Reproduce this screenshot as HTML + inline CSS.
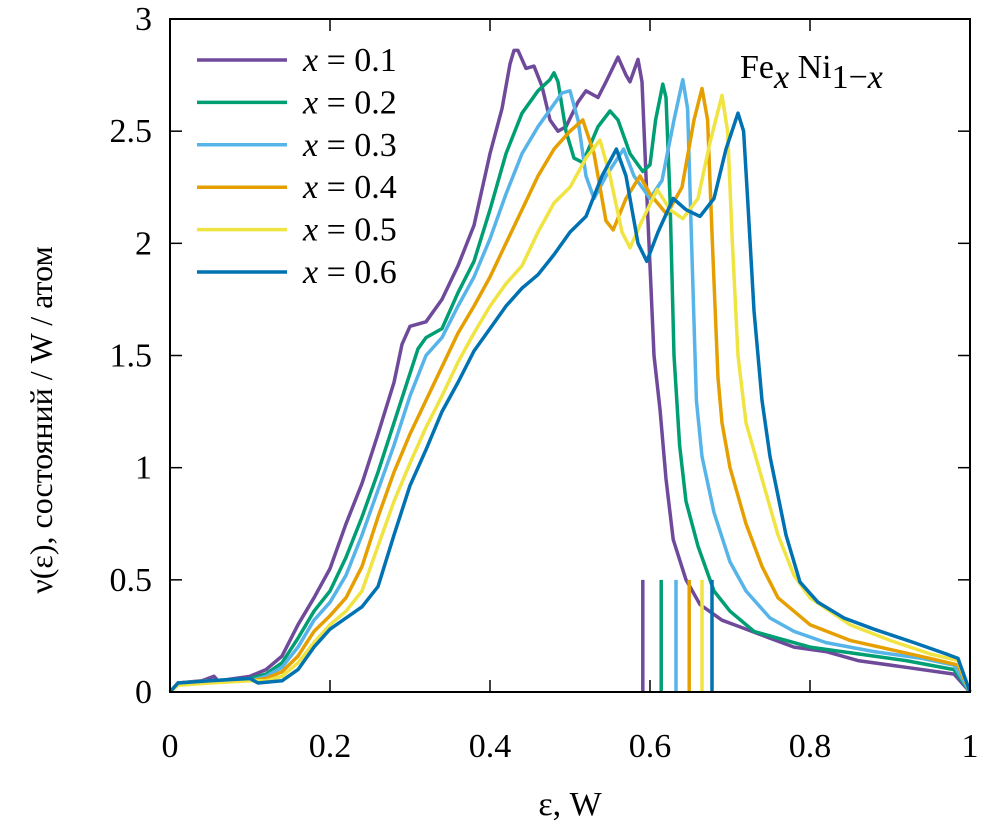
<!DOCTYPE html>
<html><head><meta charset="utf-8"><style>
html,body{margin:0;padding:0;background:#fff;}
svg{display:block;}
svg text{font-family:'Liberation Serif','Times New Roman','DejaVu Serif',serif !important;}
</style></head><body>
<svg id="chart" width="991" height="832" viewBox="0 0 991 832">
<g id="plot"></g>
<text x="740" y="78" font-size="34">Fe<tspan font-style="italic" dy="10" font-size="34">x</tspan><tspan dy="-10"> Ni</tspan><tspan dy="10">1−</tspan><tspan font-style="italic">x</tspan></text>
<text x="570" y="815" text-anchor="middle" font-size="34">ε, W</text>
<text transform="translate(52,420) rotate(-90)" text-anchor="middle" font-size="32">ν(ε), состояний  / W /  атом</text>
</svg>
<script>
const xTicks=[0,0.2,0.4,0.6,0.8,1];
const xTickLabels=["0","0.2","0.4","0.6","0.8","1"];
const yTicks=[0,0.5,1,1.5,2,2.5,3];
const yTickLabels=["0","0.5","1","1.5","2","2.5","3"];
const seriesNames=["x = 0.1","x = 0.2","x = 0.3","x = 0.4","x = 0.5","x = 0.6"];
const fermiLevels=[0.591,0.614,0.6325,0.649,0.665,0.6775];
const s01=[[0,0],[0.01,0.04],[0.04,0.05],[0.055,0.07],[0.06,0.05],[0.1,0.07],[0.12,0.1],[0.14,0.16],[0.16,0.3],[0.18,0.42],[0.2,0.55],[0.22,0.75],[0.24,0.93],[0.26,1.15],[0.28,1.38],[0.29,1.55],[0.30,1.63],[0.32,1.65],[0.34,1.75],[0.36,1.9],[0.38,2.08],[0.40,2.4],[0.415,2.6],[0.425,2.8],[0.43,2.86],[0.435,2.86],[0.445,2.78],[0.455,2.79],[0.465,2.7],[0.475,2.55],[0.485,2.5],[0.495,2.52],[0.51,2.63],[0.52,2.68],[0.535,2.65],[0.545,2.72],[0.56,2.83],[0.57,2.75],[0.575,2.72],[0.585,2.82],[0.59,2.72],[0.595,2.3],[0.60,1.9],[0.605,1.5],[0.6125,1.26],[0.62,0.95],[0.629,0.68],[0.645,0.5],[0.6625,0.39],[0.69,0.32],[0.7125,0.29],[0.75,0.24],[0.78,0.2],[0.82,0.18],[0.86,0.14],[0.92,0.11],[0.98,0.08],[1.0,0]];
const s02=[[0,0],[0.01,0.04],[0.05,0.05],[0.1,0.06],[0.12,0.08],[0.14,0.13],[0.16,0.24],[0.18,0.36],[0.2,0.45],[0.22,0.6],[0.24,0.78],[0.26,0.98],[0.28,1.2],[0.30,1.42],[0.31,1.53],[0.32,1.58],[0.34,1.62],[0.36,1.78],[0.38,1.92],[0.40,2.15],[0.42,2.4],[0.44,2.58],[0.46,2.68],[0.475,2.73],[0.48,2.76],[0.485,2.72],[0.495,2.5],[0.505,2.38],[0.516,2.36],[0.535,2.52],[0.55,2.59],[0.56,2.55],[0.575,2.4],[0.591,2.32],[0.60,2.35],[0.607,2.55],[0.616,2.71],[0.62,2.65],[0.625,2.2],[0.63,1.5],[0.637,1.1],[0.645,0.85],[0.66,0.65],[0.68,0.45],[0.70,0.36],[0.73,0.27],[0.76,0.24],[0.8,0.2],[0.86,0.17],[0.92,0.14],[0.98,0.1],[1.0,0]];
const s03=[[0,0],[0.01,0.04],[0.05,0.05],[0.1,0.05],[0.12,0.07],[0.14,0.11],[0.16,0.2],[0.18,0.32],[0.2,0.4],[0.22,0.52],[0.24,0.7],[0.26,0.9],[0.28,1.1],[0.30,1.32],[0.32,1.5],[0.34,1.58],[0.36,1.72],[0.38,1.85],[0.40,2.02],[0.42,2.22],[0.44,2.4],[0.46,2.52],[0.48,2.62],[0.49,2.67],[0.50,2.68],[0.51,2.55],[0.52,2.3],[0.53,2.2],[0.545,2.3],[0.567,2.42],[0.58,2.3],[0.6,2.2],[0.615,2.28],[0.63,2.55],[0.641,2.73],[0.647,2.6],[0.652,2.0],[0.658,1.3],[0.665,1.05],[0.68,0.8],[0.70,0.58],[0.72,0.45],[0.75,0.33],[0.78,0.27],[0.82,0.22],[0.88,0.18],[0.94,0.15],[0.98,0.12],[1.0,0]];
const s04=[[0,0],[0.01,0.04],[0.05,0.05],[0.1,0.05],[0.12,0.06],[0.14,0.09],[0.16,0.16],[0.18,0.27],[0.2,0.34],[0.22,0.42],[0.24,0.56],[0.26,0.78],[0.28,0.98],[0.30,1.15],[0.32,1.3],[0.34,1.45],[0.36,1.6],[0.38,1.72],[0.40,1.85],[0.42,2.0],[0.44,2.15],[0.46,2.3],[0.48,2.42],[0.50,2.5],[0.516,2.55],[0.53,2.4],[0.545,2.1],[0.554,2.06],[0.57,2.2],[0.5875,2.3],[0.60,2.22],[0.621,2.13],[0.64,2.25],[0.655,2.55],[0.665,2.69],[0.672,2.55],[0.678,2.0],[0.685,1.4],[0.69,1.2],[0.70,1.0],[0.72,0.75],[0.74,0.56],[0.76,0.42],[0.8,0.3],[0.85,0.23],[0.9,0.19],[0.95,0.15],[0.985,0.12],[1.0,0]];
const s05=[[0,0],[0.01,0.03],[0.05,0.04],[0.1,0.05],[0.12,0.05],[0.14,0.07],[0.16,0.13],[0.18,0.22],[0.2,0.3],[0.22,0.36],[0.24,0.45],[0.26,0.65],[0.28,0.85],[0.30,1.02],[0.32,1.18],[0.34,1.32],[0.36,1.47],[0.38,1.6],[0.40,1.72],[0.42,1.82],[0.44,1.9],[0.46,2.05],[0.48,2.18],[0.50,2.25],[0.52,2.38],[0.5375,2.46],[0.55,2.3],[0.565,2.05],[0.575,1.98],[0.59,2.1],[0.609,2.24],[0.625,2.15],[0.641,2.11],[0.66,2.2],[0.675,2.45],[0.69,2.66],[0.697,2.5],[0.703,2.0],[0.71,1.5],[0.72,1.2],[0.74,0.95],[0.76,0.7],[0.78,0.52],[0.8,0.42],[0.85,0.3],[0.9,0.23],[0.95,0.17],[0.985,0.14],[1.0,0]];
const s06=[[0,0],[0.01,0.04],[0.05,0.05],[0.1,0.06],[0.11,0.04],[0.14,0.05],[0.16,0.1],[0.18,0.2],[0.2,0.28],[0.22,0.33],[0.24,0.38],[0.26,0.47],[0.28,0.7],[0.30,0.92],[0.32,1.08],[0.34,1.25],[0.36,1.38],[0.38,1.52],[0.40,1.62],[0.42,1.72],[0.44,1.8],[0.46,1.86],[0.48,1.95],[0.50,2.05],[0.52,2.12],[0.54,2.3],[0.558,2.42],[0.57,2.3],[0.585,2.0],[0.596,1.92],[0.61,2.05],[0.629,2.2],[0.645,2.15],[0.6625,2.12],[0.68,2.2],[0.695,2.42],[0.71,2.58],[0.717,2.5],[0.722,2.2],[0.73,1.7],[0.74,1.3],[0.75,1.05],[0.77,0.7],[0.7875,0.49],[0.81,0.4],[0.8425,0.33],[0.88,0.28],[0.93,0.22],[0.97,0.17],[0.985,0.15],[1.0,0]];
const allSeries=[s01,s02,s03,s04,s05,s06];
const colors=["#6f4a9b","#009e73","#56b4e9","#e69f00","#f0e442","#0072b2"];

const L=170,R=970,T=19,B=692;
const sx=v=>L+(R-L)*v;
const sy=v=>B-(B-T)*v/3;
const NS="http://www.w3.org/2000/svg";
const g=document.getElementById('plot');
function mk(tag,attrs,parent){const e=document.createElementNS(NS,tag);for(const k in attrs)e.setAttribute(k,attrs[k]);(parent||g).appendChild(e);return e;}

allSeries.forEach((s,i)=>{
  const p=mk('path',{d:s.map((pt,j)=>(j?'L':'M')+sx(pt[0]).toFixed(1)+','+sy(pt[1]).toFixed(1)).join(''),fill:'none',stroke:colors[i],'stroke-width':3.5,'stroke-linejoin':'round'});
  
  
});
fermiLevels.forEach((f,i)=>{
  const l=mk('line',{x1:sx(f),x2:sx(f),y1:sy(0),y2:sy(0.5),stroke:colors[i],'stroke-width':3.5});
  
  
});
const fr=mk('rect',{x:L,y:T,width:R-L,height:B-T,fill:'none',stroke:'#000','stroke-width':2});


xTicks.forEach((v,i)=>{
  mk('line',{x1:sx(v),x2:sx(v),y1:B,y2:B-12,stroke:'#000','stroke-width':1.5});
  mk('line',{x1:sx(v),x2:sx(v),y1:T,y2:T+12,stroke:'#000','stroke-width':1.5});
  const t=mk('text',{x:sx(v),y:757,'text-anchor':'middle','font-size':34});
  t.textContent=xTickLabels[i];
  
  
});
yTicks.forEach((v,i)=>{
  mk('line',{x1:L,x2:L+12,y1:sy(v),y2:sy(v),stroke:'#000','stroke-width':1.5});
  mk('line',{x1:R,x2:R-12,y1:sy(v),y2:sy(v),stroke:'#000','stroke-width':1.5});
  const t=mk('text',{x:152,y:sy(v)+11,'text-anchor':'end','font-size':34});
  t.textContent=yTickLabels[i];
  
  
});
seriesNames.forEach((n,i)=>{
  const y=60+i*42.4;
  const l=mk('line',{x1:197,x2:287,y1:y,y2:y,stroke:colors[i],'stroke-width':3.5});
  
  
  const t=mk('text',{x:303,y:y+11,'font-size':34});
  const it=mk('tspan',{'font-style':'italic'},t);
  it.textContent='x';
  const rest=mk('tspan',{},t);
  rest.textContent=' = '+n.split('= ')[1];
  
  
});
</script>
</body></html>
